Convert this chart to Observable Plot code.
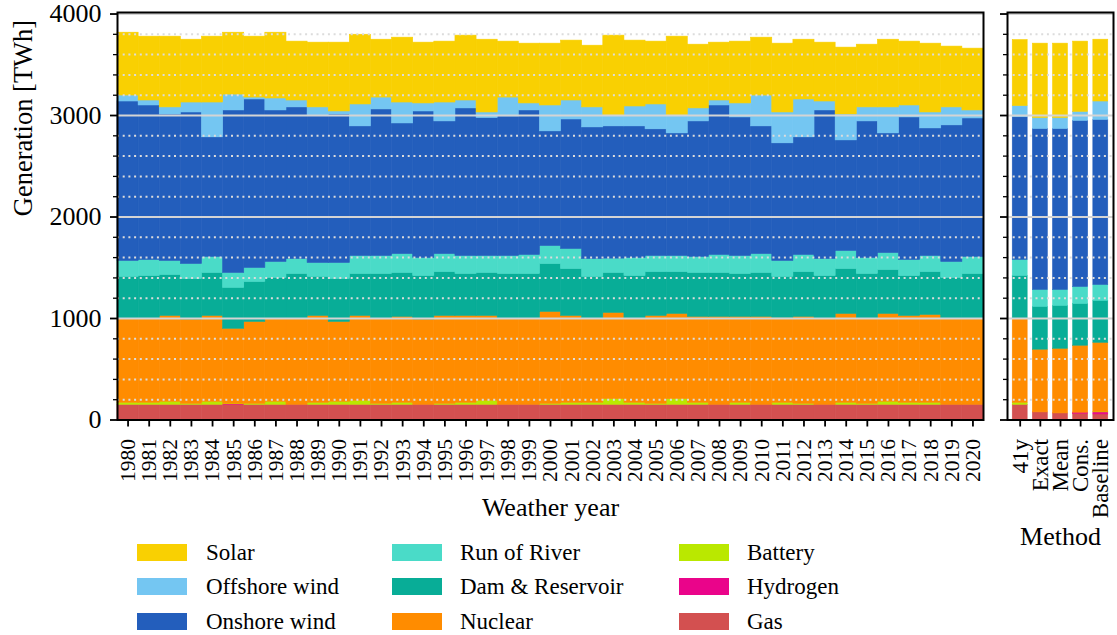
<!DOCTYPE html>
<html><head><meta charset="utf-8">
<script src="https://cdn.jsdelivr.net/npm/d3@7"></script>
<script src="https://cdn.jsdelivr.net/npm/@observablehq/plot@0.6"></script>
<style>
body{margin:0;background:#fff;font-family:'Liberation Serif','Times New Roman',serif;}
#wrap{position:relative;width:1117px;height:635px;overflow:hidden;background:#fff;}
#left{position:absolute;left:0;top:0;}
#right{position:absolute;left:990px;top:0;}
.lt{position:absolute;font-size:23px;line-height:23px;white-space:nowrap;color:#000;}
.sw{position:absolute;width:50px;height:17px;}
svg{overflow:visible;}
</style></head><body>
<div id="wrap"><div id="left"></div><div id="right"></div><div id="legend"></div></div>
<script>
// ---------- data ----------
const years = ["1980","1981","1982","1983","1984","1985","1986","1987","1988","1989","1990","1991","1992","1993","1994","1995","1996","1997","1998","1999","2000","2001","2002","2003","2004","2005","2006","2007","2008","2009","2010","2011","2012","2013","2014","2015","2016","2017","2018","2019","2020"];
const methods = ["41y","Exact","Mean","Cons.","Baseline"];
const techs = ["Gas","Hydrogen","Battery","Nuclear","Dam & Reservoir","Run of River","Onshore wind","Offshore wind","Solar"];
const colors = ["#d35050","#ea048a","#bae800","#ff8c00","#08ad97","#4adbc8","#235ebc","#74c6f2","#f9d002"];

const gas      = [150,150,150,150,150,150,150,150,150,150,150,150,150,150,150,150,150,150,150,150,150,150,150,150,150,150,150,150,150,150,150,150,150,150,150,150,150,150,150,150,150];
const hydrogen = [0,0,0,0,0,5,0,0,0,0,0,0,0,0,0,0,0,0,0,0,0,0,0,0,0,0,0,0,0,0,0,0,0,0,0,0,0,0,0,0,0];
const battery  = [20,20,30,10,30,5,10,30,0,20,30,40,10,20,0,10,20,40,0,0,10,20,20,55,20,10,55,20,0,20,0,20,10,0,20,10,30,20,20,0,0];
const nuclear  = [830,830,846,830,846,739,807,820,850,856,787,836,840,847,840,866,856,836,850,850,906,856,830,851,830,866,841,847,867,847,867,835,857,850,876,840,866,856,866,850,850];
const dam      = [410,419,403,400,423,403,393,400,439,384,423,413,439,432,429,432,413,423,439,439,471,462,410,393,419,432,412,432,432,422,432,405,441,419,442,439,432,393,422,400,439];
const ror      = [157,158,138,147,157,147,138,157,147,137,157,177,177,186,177,177,177,167,177,187,177,197,176,141,177,158,158,157,177,177,186,157,168,167,177,157,167,158,158,157,167];
const onshore  = [1571,1522,1443,1493,1179,1601,1660,1493,1494,1454,1463,1277,1444,1287,1444,1307,1454,1359,1375,1424,1130,1276,1297,1303,1297,1248,1208,1336,1473,1365,1258,1159,1159,1464,1090,1346,1179,1404,1257,1346,1365];
const offshore = [59,49,70,98,343,156,19,118,68,79,30,216,117,206,79,186,78,55,186,69,255,187,197,108,196,245,177,128,49,138,304,304,373,88,255,138,256,118,157,177,79];
const solar    = [619,629,697,619,649,610,600,648,580,638,678,687,570,639,599,600,639,717,551,589,609,590,608,786,649,619,776,628,570,609,570,678,589,580,659,618,667,629,678,599,609];

// methods panel (41y, Exact, Mean, Cons., Baseline)
const mGas      = [150,75,65,62,55];
const mHydrogen = [0,0,0,10,20];
const mBattery  = [20,0,0,0,5];
const mNuclear  = [830,618,637,660,681];
const mDam      = [420,422,423,412,413];
const mRor      = [158,167,157,167,157];
const mOnshore  = [1405,1586,1586,1636,1626];
const mOffshore = [110,108,108,89,181];
const mSolar    = [650,732,732,692,609];

const majorTicks = [0,1000,2000,3000,4000];
const minorTicks = [200,400,600,800,1200,1400,1600,1800,2200,2400,2600,2800,3200,3400,3600,3800];

// ---------- build tables ----------
function table(cats, series){
  const out=[];
  techs.forEach((t,k)=>cats.forEach((c,i)=>out.push({cat:c, tech:t, value:series[k][i]})));
  return out;
}
const leftData = table(years,[gas,hydrogen,battery,nuclear,dam,ror,onshore,offshore,solar]);
const rightData = table(methods,[mGas,mHydrogen,mBattery,mNuclear,mDam,mRor,mOnshore,mOffshore,mSolar]);

const FONT = "'Liberation Serif','Times New Roman',serif";
const H = 560, MT = 12, MB = 140.5;
const yDomain = [0, 4015];

function gridMarks(){
  return [
    Plot.ruleY(minorTicks, {stroke:"#dcdcdc", strokeWidth:2, strokeDasharray:"2,3.7"}),
    Plot.ruleY(majorTicks, {stroke:"#d4d4d4", strokeWidth:2})
  ];
}

const left = Plot.plot({
  width:990, height:H, marginLeft:117, marginRight:7, marginTop:MT, marginBottom:MB,
  style:{fontFamily:FONT, fontSize:"26px", background:"transparent", color:"#000"},
  x:{type:"band", domain:years, padding:0, round:false},
  y:{domain:yDomain},
  color:{domain:techs, range:colors},
  marks:[
    Plot.barY(leftData, {x:"cat", y:"value", fill:"tech", stroke:"tech", strokeWidth:0.6, inset:0}),
    ...gridMarks(),
    Plot.axisY(majorTicks, {tickSize:7, tickPadding:9, fontSize:26, tickFormat:d=>String(d), label:null, strokeWidth:1.8}),
    Plot.axisY(minorTicks, {tickSize:4, tickFormat:()=>"", label:null, strokeWidth:1.3}),
    Plot.axisX({tickRotate:-90, tickSize:7, tickPadding:12, fontSize:21.5, label:null, strokeWidth:1.8}),
    Plot.text(["Weather year"], {frameAnchor:"bottom", dy:96, fontSize:26, text:d=>d}),
    Plot.text(["Generation [TWh]"], {frameAnchor:"left", dx:-94, rotate:-90, fontSize:26.5, text:d=>d}),
    Plot.frame({stroke:"#000", strokeWidth:2})
  ]
});
document.getElementById("left").appendChild(left);

const right = Plot.plot({
  width:127, height:H, marginLeft:17, marginRight:4, marginTop:MT, marginBottom:MB,
  style:{fontFamily:FONT, fontSize:"23px", background:"transparent", color:"#000"},
  x:{type:"band", domain:methods, padding:0.26, round:false},
  y:{domain:yDomain},
  color:{domain:techs, range:colors},
  marks:[
    Plot.barY(rightData, {x:"cat", y:"value", fill:"tech", stroke:"tech", strokeWidth:0.6, inset:0}),
    ...gridMarks(),
    Plot.axisY(majorTicks, {tickSize:7, tickFormat:()=>"", label:null, strokeWidth:1.8}),
    Plot.axisY(minorTicks, {tickSize:4, tickFormat:()=>"", label:null, strokeWidth:1.3}),
    Plot.axisX({tickRotate:-90, tickSize:7, tickPadding:12, fontSize:23, label:null, strokeWidth:1.8}),
    Plot.text(["Method"], {frameAnchor:"bottom", dy:125, fontSize:26, text:d=>d}),
    Plot.frame({stroke:"#000", strokeWidth:2})
  ]
});
document.getElementById("right").appendChild(right);

// ---------- legend ----------
const legend = document.getElementById("legend");
const legendOrder = techs.slice().reverse();
const colX = [137, 392, 679], textX = [206, 460, 747], rowY = [552, 586, 621];
legendOrder.forEach((t,k)=>{
  const c = Math.floor(k/3), r = k%3;
  const sw = document.createElement("div");
  sw.className="sw"; sw.style.left=colX[c]+"px"; sw.style.top=(rowY[r]-8.5)+"px";
  sw.style.background = colors[techs.indexOf(t)];
  legend.appendChild(sw);
  const tx = document.createElement("div");
  tx.className="lt"; tx.style.left=textX[c]+"px"; tx.style.top=(rowY[r]-11.5)+"px";
  tx.textContent = t;
  legend.appendChild(tx);
});
</script>
</body></html>
